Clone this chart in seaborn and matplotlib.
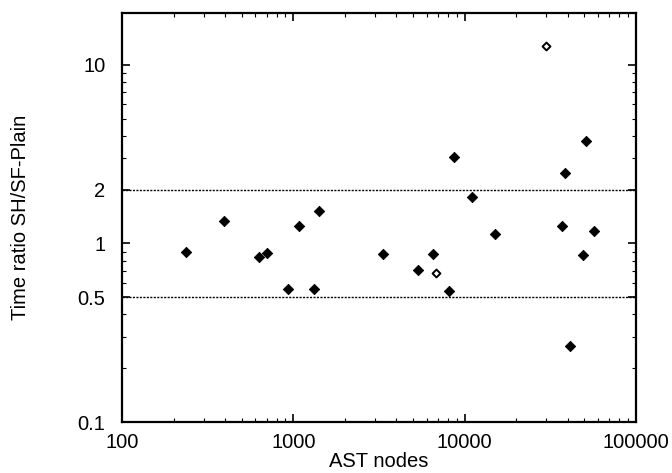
import matplotlib
matplotlib.use("Agg")
import matplotlib.pyplot as plt
import matplotlib.ticker as mticker
import numpy as np
import pandas as pd
import seaborn as sns

# Data
solid_x = [237, 394, 630, 702, 931, 1079, 1321, 1406, 3342, 5346, 6518, 8150,
           8670, 10990, 15100, 36900, 38700, 41400, 49100, 50900, 56900]
solid_y = [0.90, 1.33, 0.835, 0.88, 0.556, 1.25, 0.558, 1.51, 0.876, 0.713, 0.876, 0.539,
           3.06, 1.81, 1.13, 1.25, 2.47, 0.268, 0.857, 3.76, 1.18]
hollow_x = [6776, 29700]
hollow_y = [0.683, 12.8]
ref_lines = [2, 0.5]
y_ticks = [0.1, 0.5, 1, 2, 10]
y_tick_labels = ["0.1", "0.5", "1", "2", "10"]
x_ticks = [100, 1000, 10000, 100000]
x_tick_labels = ["100", "1000", "10000", "100000"]

sns.set_theme(style="ticks")
plt.rcParams["font.family"] = ["Liberation Sans", "DejaVu Sans"]

df_solid = pd.DataFrame({"x": solid_x, "y": solid_y})
df_hollow = pd.DataFrame({"x": hollow_x, "y": hollow_y})

fig = plt.figure(figsize=(6.72, 4.73), dpi=100)
ax = fig.add_axes([122 / 672, 1 - 422 / 473, (636 - 122) / 672, (422 - 13) / 473])

for v in ref_lines:
    ax.axhline(v, color="black", linewidth=1.0, linestyle=(0, (1.5, 1.0)), zorder=1)

sns.scatterplot(data=df_solid, x="x", y="y", ax=ax, marker="D", s=28,
                color="black", edgecolor="black", linewidth=0.6, zorder=3)
sns.scatterplot(data=df_hollow, x="x", y="y", ax=ax, marker="D", s=16,
                facecolor="white", edgecolor="black", linewidth=1.4, zorder=3)

ax.set_xscale("log")
ax.set_yscale("log")
ax.set_xlim(100, 100000)
ax.set_ylim(0.1, 19.5)

ax.set_xticks(x_ticks)
ax.set_xticklabels(x_tick_labels)
ax.xaxis.set_minor_locator(mticker.LogLocator(base=10, subs=np.arange(2, 10)))
ax.xaxis.set_minor_formatter(mticker.NullFormatter())
ax.set_yticks(y_ticks)
ax.set_yticklabels(y_tick_labels)
ax.yaxis.set_minor_locator(mticker.LogLocator(base=10, subs=np.arange(2, 10)))
ax.yaxis.set_minor_formatter(mticker.NullFormatter())

ax.tick_params(which="both", direction="in", top=True, right=True, color="black",
               labelsize=14.5, labelcolor="black")
ax.tick_params(axis="x", which="major", length=6, width=1.2, pad=8)
ax.tick_params(axis="y", which="major", length=6, width=1.2, pad=12)
ax.tick_params(which="minor", length=3, width=0.8)

for sp in ax.spines.values():
    sp.set_linewidth(1.6)
    sp.set_color("black")

ax.set_xlabel("AST nodes", fontsize=14.5, labelpad=0, color="black")
ax.set_ylabel("Time ratio SH/SF-Plain", fontsize=14.5, labelpad=34, color="black")

fig.savefig("out.png", dpi=100, facecolor="white")
